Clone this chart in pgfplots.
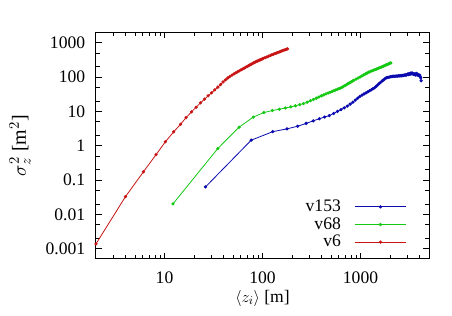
\documentclass[border=0pt]{standalone}
\usepackage{pgfplots}
\pgfplotsset{compat=1.18}
\usepackage{fontspec}
\setmainfont{Liberation Serif}
\definecolor{cv6}{RGB}{200,20,20}
\definecolor{cv68}{RGB}{20,200,20}
\definecolor{cv153}{RGB}{10,10,175}
\begin{document}
\fontsize{13.2}{15.5}\selectfont
\begin{tikzpicture}
\path[use as bounding box] (-72pt,-42.75pt) rectangle (267pt,194.25pt);
\begin{axis}[
  scale only axis, width=249.75pt, height=169.9pt,
  xmode=log, ymode=log,
  xmin=2, xmax=5000, ymin=5e-4, ymax=2000,
  /pgf/number format/assume math mode=true,
  xtick={10,100,1000}, xticklabels={10,100,1000},
  ytick={0.001,0.01,0.1,1,10,100,1000},
  yticklabels={0.001,0.01,0.1,1,10,100,1000},
  minor xtick={3,4,5,6,7,8,9,20,30,40,50,60,70,80,90,200,300,400,500,600,700,800,900,2000,3000,4000},
  minor ytick={0.002,0.005,0.02,0.05,0.2,0.5,2,5,20,50,200,500},
  tick align=inside,
  major tick length=4.5pt, minor tick length=2.7pt,
  every tick/.style={black, line width=0.6pt},
  axis line style={line width=0.75pt},
  yticklabel style={xshift=-3.5pt},
  xticklabel style={yshift=-5pt},
  xlabel={$\langle z_i\rangle$ [m]},
  ylabel={\fontsize{15}{18}\selectfont$\sigma_z^2$ [m$^2$]},
  xlabel style={at={(axis description cs:0.5,-0.172)}, anchor=center, inner sep=0pt},
  ylabel style={at={(axis description cs:-0.228,0.5)}, anchor=center},
  legend plot pos=right,
  legend cell align=right,
  legend image code/.code={\draw[mark repeat=2,mark phase=2,#1] plot coordinates {(0pt,0pt) (19.4pt,0pt) (38.8pt,0pt)};},
  legend style={draw=none, fill=none, at={(rel axis cs:0.946,0.018)}, anchor=south east, row sep=-1.5pt,
    /tikz/every odd column/.append style={column sep=8pt}},
  every axis plot/.append style={line width=0.6pt, mark=*, mark size=0.9pt},
]
\addplot[cv153, mark options={fill=cv153}] coordinates {
(26.2,0.063) (76.7,1.45) (127.2,2.57) (177.7,3.10) (228.2,3.70) (278.7,4.48) (329.2,5.31) (379.7,6.11) (430.2,6.84) (480.7,7.55) (531.2,8.71) (581.7,10.0) (632.2,11.3) (682.7,12.7) (733.2,14.3) (783.7,16.3) (834.2,18.5) (884.7,21.3) (935.2,24.3) (985.7,27.2) (1036,29.8) (1087,32.3) (1137,34.7) (1188,37.2) (1238,40) (1289,42.8) (1339,45.7) (1390,48.8) (1440,53.3) (1491,58.2) (1541,63.8) (1592,69.2) (1642,74.5) (1693,80.4) (1743,85.7) (1794,91.8) (1844,95.9) (1895,97.5) (1945,98.9) (1996,101) (2046,104) (2097,103) (2147,106) (2198,105) (2248,107) (2299,106) (2349,108) (2400,107) (2450,109) (2501,108) (2551,110) (2602,109) (2652,112) (2703,110) (2753,113) (2804,115) (2854,113) (2905,117) (2955,115) (3006,120) (3056,124) (3107,119) (3157,127) (3208,122) (3258,130) (3309,125) (3359,133) (3410,124) (3460,121) (3511,126) (3561,119) (3612,122) (3662,115) (3713,128) (3763,118) (3814,123) (3864,112) (3915,118) (3965,110) (4016,114) (4066,104) (4117,95) (4160,78)
};
\addlegendentry{v153}
\addplot[cv68, mark options={fill=cv68}] coordinates {
(12.2,0.0202) (35.0,0.83) (57.7,3.47) (80.5,6.84) (103.2,9.27) (126.0,10.6) (148.7,11.6) (171.5,12.6) (194.2,13.5) (217.0,14.6) (239.7,15.8) (262.5,16.9) (285.2,18.6) (308.0,20.5) (330.7,22.2) (353.5,24.2) (376.2,26.3) (399.0,28.4) (421.7,30.4) (444.5,32.4) (467.2,34.3) (490.0,36.1) (512.7,38.1) (535.5,40.1) (558.2,42.0) (581.0,44.0) (603.7,46.0) (626.5,48.0) (649.2,50.7) (672.0,53.6) (694.7,56.8) (717.5,60.1) (740.2,63.4) (763.0,66.8) (785.7,70.1) (808.5,73.4) (831.2,76.7) (854.0,80) (899.5,87.1) (945.0,94) (990.5,101) (1036,109) (1081.5,116) (1127,124) (1172.5,132) (1218,140) (1263.5,146) (1309,152) (1354.5,158) (1400,164) (1445.5,170) (1491,176) (1536.5,182) (1582,189) (1627.5,196) (1673,203) (1718.5,209) (1764,216) (1809.5,223) (1855,230) (1900.5,237) (1946,244) (1991.5,251) (2037,258)
};
\addlegendentry{v68}
\addplot[cv6, mark options={fill=cv6}] coordinates {
(2,0.00138) (4.0,0.033) (6.1,0.174) (8.2,0.55) (10.2,1.3) (12.4,2.54) (14.6,4.24) (16.6,6.6) (18.9,9.7) (21.0,13.2) (23.3,17.8) (25.6,22.7) (27.9,28.5) (30.2,34.9) (32.6,42.6) (35.0,50.8) (37.3,60.8) (39.6,72.3) (41.9,82.8) (44.2,94.2) (46.5,104) (48.8,114) (51.1,124) (53.4,133) (55.7,142) (58.0,152) (60.3,162) (62.6,172) (64.9,182) (67.2,192) (69.5,203) (71.8,214) (74.1,225) (76.4,236) (78.7,248) (81.0,258) (83.3,269) (85.6,279) (87.9,290) (90.2,300) (92.5,310) (94.8,320) (97.1,330) (99.4,340) (101.7,350) (106.3,369) (110.9,388) (115.5,408) (120.1,427) (124.7,447) (129.3,465) (133.9,484) (138.5,501) (143.1,520) (147.7,538) (152.3,557) (156.9,575) (161.5,593) (166.1,611) (170.7,628) (175.3,646) (179.9,664)
};
\addlegendentry{v6}
\end{axis}
\end{tikzpicture}
\end{document}
